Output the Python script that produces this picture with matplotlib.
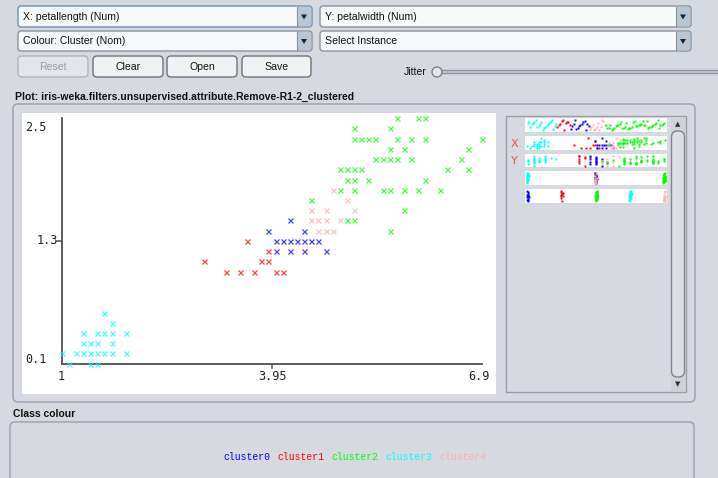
"""
Weka explorer visualize panel: petallength vs petalwidth coloured by cluster.
The whole window is drawn on one pixel-sized axes, the scatter on its own axes.
"""

import numpy as np
import matplotlib.pyplot as plt
from matplotlib.patches import FancyBboxPatch, Rectangle, Circle, Polygon

# points (petallength, petalwidth) per cluster
c0_len = [4.0, 4.2, 4.4, 4.7, 4.0, 4.1, 4.2, 4.3, 4.4, 4.5, 4.6, 3.9, 4.4, 4.2]
c0_wid = [1.2, 1.2, 1.2, 1.2, 1.3, 1.3, 1.3, 1.3, 1.3, 1.3, 1.3, 1.4, 1.4, 1.5]

c1_len = [3.3, 3.5, 3.7, 4.0, 4.1, 3.0, 3.8, 3.9, 3.9, 3.6]
c1_wid = [1.0, 1.0, 1.0, 1.0, 1.0, 1.1, 1.1, 1.1, 1.2, 1.3]

c2_len = [5.6, 5.0, 5.1, 5.8, 4.5,
          4.9, 5.1, 5.5, 5.6, 5.8, 6.0, 6.3,
          5.0, 5.1, 5.3, 6.1,
          4.9, 5.0, 5.1, 5.2, 6.4, 6.7,
          5.4, 5.5, 5.6, 5.7, 5.9, 6.6,
          5.6, 5.8, 6.7,
          5.1, 5.2, 5.3, 5.4, 5.7, 5.9, 6.1, 6.9,
          5.1, 5.6,
          5.7, 6.0, 6.1]
c2_wid = [1.4, 1.5, 1.5, 1.6, 1.7,
          1.8, 1.8, 1.8, 1.8, 1.8, 1.8, 1.8,
          1.9, 1.9, 1.9, 1.9,
          2.0, 2.0, 2.0, 2.0, 2.0, 2.0,
          2.1, 2.1, 2.1, 2.1, 2.1, 2.1,
          2.2, 2.2, 2.2,
          2.3, 2.3, 2.3, 2.3, 2.3, 2.3, 2.3, 2.3,
          2.4, 2.4,
          2.5, 2.5, 2.5]

c3_len = [1.6, 1.7, 1.3, 1.5, 1.6, 1.7, 1.9, 1.3, 1.4, 1.5, 1.7,
          1.0, 1.2, 1.3, 1.4, 1.5, 1.6, 1.7, 1.9, 1.1, 1.4, 1.5]
c3_wid = [0.6, 0.5, 0.4, 0.4, 0.4, 0.4, 0.4, 0.3, 0.3, 0.3, 0.3,
          0.2, 0.2, 0.2, 0.2, 0.2, 0.2, 0.2, 0.2, 0.1, 0.1, 0.1]

c4_len = [4.6, 4.7, 4.8, 4.5, 4.6, 4.7, 4.9, 4.5, 4.7, 5.1, 5.0, 4.8]
c4_wid = [1.4, 1.4, 1.4, 1.5, 1.5, 1.5, 1.5, 1.6, 1.6, 1.6, 1.7, 1.8]

cluster_names = ['cluster0', 'cluster1', 'cluster2', 'cluster3', 'cluster4']
cluster_colors = ['#0000ff', '#ff0000', '#00ff00', '#00ffff', '#ffafaf']
# class of each cluster for the class strip (setosa / versicolor / virginica)
cluster_class = [1, 1, 2, 0, 1]

x_ticks = [1, 3.95, 6.9]
x_tick_labels = ['1', '3.95', '6.9']
y_ticks = [0.1, 1.3, 2.5]
y_tick_labels = ['0.1', '1.3', '2.5']

lengths = [c0_len, c1_len, c2_len, c3_len, c4_len]
widths = [c0_wid, c1_wid, c2_wid, c3_wid, c4_wid]

BG = '#d6d9df'
EDGE = '#9a9ea6'
GUI_FONT = ['Liberation Sans Narrow', 'Liberation Sans', 'DejaVu Sans']
MONO = ['DejaVu Sans Mono']
FS = 7.6

W, H = 718, 478
fig = plt.figure(figsize=(W / 100, H / 100), dpi=100)
fig.patch.set_facecolor(BG)

gui = fig.add_axes([0, 0, 1, 1])
gui.set_xlim(0, W)
gui.set_ylim(H, 0)
gui.axis('off')


def rbox(x0, y0, x1, y1, fc, ec, r=3, lw=1.0, z=1):
    p = FancyBboxPatch((x0, y0), x1 - x0, y1 - y0,
                       boxstyle='round,pad=0,rounding_size=%g' % r,
                       fc=fc, ec=ec, lw=lw, zorder=z)
    gui.add_patch(p)


def combo(x0, y0, x1, y1, text, focus=False):
    rbox(x0, y0, x1, y1, '#f7f8fa', '#6f8fb5' if focus else '#8c9199', r=3)
    gui.add_patch(Rectangle((x1 - 15, y0 + 1), 14, y1 - y0 - 2,
                            fc='#b9c6d5', ec='none', zorder=2))
    gui.plot([x1 - 15, x1 - 15], [y0 + 1, y1 - 1], color='#8c9199', lw=0.8, zorder=3)
    cx, cy = x1 - 8, (y0 + y1) / 2
    gui.add_patch(Polygon([[cx - 3, cy - 2], [cx + 3, cy - 2], [cx, cy + 3]],
                          closed=True, fc='#222222', ec='none', zorder=3))
    gui.text(x0 + 5, cy, text, ha='left', va='center', fontsize=FS,
             family=GUI_FONT, color='#111111', zorder=3)


def button(x0, y0, x1, y1, text, enabled=True):
    rbox(x0, y0, x1, y1, '#f1f2f4' if enabled else '#e3e5e9',
         '#6e737b' if enabled else '#b2b6bc', r=4)
    gui.text((x0 + x1) / 2, (y0 + y1) / 2, text, ha='center', va='center',
             fontsize=FS, family=GUI_FONT,
             color='#111111' if enabled else '#9a9ea5', zorder=3)


combo(18, 6, 312, 27, 'X: petallength (Num)', focus=True)
combo(320, 6, 691, 27, 'Y: petalwidth (Num)')
combo(18, 31, 312, 51, 'Colour: Cluster (Nom)')
combo(320, 31, 691, 51, 'Select Instance')

button(18, 56, 88, 77, 'Reset', enabled=False)
button(93, 56, 163, 77, 'Clear')
button(167, 56, 237, 77, 'Open')
button(242, 56, 311, 77, 'Save')

# jitter slider
gui.text(427, 72, 'Jitter', ha='right', va='center', fontsize=FS,
         family=GUI_FONT, color='#111111')
rbox(440, 70.5, 722, 73.5, '#c4c8ce', '#8c9199', r=1.5)
gui.add_patch(Circle((437, 72), 5, fc='#e6e8ec', ec='#7c818a', lw=1, zorder=4))

# plot panel
gui.text(15, 97, 'Plot: iris-weka.filters.unsupervised.attribute.Remove-R1-2_clustered',
         ha='left', va='center', fontsize=7.5, fontweight='bold',
         family=GUI_FONT, color='#111111')
rbox(13, 104, 695, 402, BG, EDGE, r=5)
gui.add_patch(Rectangle((506, 116), 180, 276, fc='none', ec=EDGE, lw=1, zorder=2))

# scrollbar
gui.add_patch(Rectangle((671, 117), 14, 274, fc='#cfd3d9', ec='none', zorder=2))
rbox(671.5, 131, 684.5, 377, '#dcdfe4', '#80858d', r=6, z=3)
gui.text(678, 124, '\u25b2', ha='center', va='center', fontsize=5,
         family=['DejaVu Sans'], color='#333333')
gui.text(678, 384, '\u25bc', ha='center', va='center', fontsize=5,
         family=['DejaVu Sans'], color='#333333')
gui.text(514, 144, 'X', ha='center', va='center', fontsize=8,
         family=['DejaVu Sans'], color='#e05050')
gui.text(514, 161, 'Y', ha='center', va='center', fontsize=8,
         family=['DejaVu Sans'], color='#e05050')

# class colour panel
gui.text(13, 414, 'Class colour', ha='left', va='center', fontsize=7.5,
         fontweight='bold', family=GUI_FONT, color='#111111')
rbox(10, 422, 694, 490, BG, EDGE, r=5)
for i, name in enumerate(cluster_names):
    gui.text(223 + i * 54, 457, name, ha='left', va='center', fontsize=7,
             family=['Liberation Mono', 'DejaVu Sans Mono'],
             color=cluster_colors[i])

# scatter axes placed on the white area, limits from the pixel mapping
px_l, px_r, px_t, px_b = 22, 496, 113, 394
x0_px, x_scale = 61.7, 71.3      # pixel of x=1, pixels per unit
y0_px, y_scale = 363.7, 102.3    # pixel of y=0.1, pixels per unit
ax = fig.add_axes([px_l / W, 1 - px_b / H, (px_r - px_l) / W, (px_b - px_t) / H])
ax.set_facecolor('white')
ax.set_xlim(1 + (px_l - x0_px) / x_scale, 1 + (px_r - x0_px) / x_scale)
ax.set_ylim(0.1 - (px_b - y0_px) / y_scale, 0.1 + (y0_px - px_t) / y_scale)
ax.set_xticks([])
ax.set_yticks([])
for s in ax.spines.values():
    s.set_visible(False)

ax.plot([x_ticks[0], x_ticks[0]], [y_ticks[0], y_ticks[-1]], color='#505050', lw=1.3)
ax.plot([x_ticks[0], x_ticks[-1]], [y_ticks[0], y_ticks[0]], color='#505050', lw=1.3)
ax.plot([x_ticks[0] - 5 / x_scale, x_ticks[0]], [y_ticks[1], y_ticks[1]],
        color='#505050', lw=1.1)
ax.plot([x_ticks[1], x_ticks[1]], [y_ticks[0], y_ticks[0] - 4 / y_scale],
        color='#505050', lw=1.1)

for k in range(5):
    ax.plot(lengths[k], widths[k], 'x', color=cluster_colors[k],
            ms=3.6, mew=0.9, alpha=0.75, clip_on=False)

# tick labels (monospace, as in the java panel)
tk = dict(fontsize=8.5, family=MONO, color='#222222', va='center', ha='center')
ax.text(1 + (36 - x0_px) / x_scale, y_ticks[2] - 9 / y_scale, y_tick_labels[2], **tk)
ax.text(1 + (47 - x0_px) / x_scale, y_ticks[1], y_tick_labels[1], **tk)
ax.text(1 + (36 - x0_px) / x_scale, y_ticks[0] + 4 / y_scale, y_tick_labels[0], **tk)
ax.text(x_ticks[0], y_ticks[0] - 13 / y_scale, x_tick_labels[0], **tk)
ax.text(x_ticks[1], y_ticks[0] - 13 / y_scale, x_tick_labels[1], **tk)
ax.text(x_ticks[2] - 3 / x_scale, y_ticks[0] - 13 / y_scale, x_tick_labels[2], **tk)


# attribute strips on the right
def spread(vals):
    v = np.asarray(vals, dtype=float)
    if v.max() == v.min():
        return np.full(len(v), 0.5)
    return (v - v.min()) / (v.max() - v.min())


strip_rows = [(118, 132), (136, 150), (154, 167), (171, 185), (189, 203)]
strips = []
for (t, b) in strip_rows:
    sa = fig.add_axes([525 / W, 1 - b / H, 142 / W, (b - t) / H])
    sa.set_facecolor('white')
    sa.set_xticks([])
    sa.set_yticks([])
    for s in sa.spines.values():
        s.set_visible(False)
    sa.set_ylim(-0.15, 1.15)
    strips.append(sa)

order = [3, 1, 0, 4, 2]
start = 0
mk = dict(marker='s', ls='none', ms=1.4, mew=0)
for k in order:
    n = len(lengths[k])
    idx = np.arange(start, start + n)
    start += n
    col = cluster_colors[k]
    sl = spread(lengths[k])
    sw = spread(widths[k])
    strips[0].plot(idx, sl, color=col, **mk)
    strips[1].plot(lengths[k], sw, color=col, **mk)
    strips[2].plot(widths[k], sl, color=col, **mk)
    strips[3].plot(cluster_class[k] + 0.03 * sw, sl, color=col, **mk)
    strips[4].plot(k + 0.06 * sw, sl, color=col, **mk)

strips[0].set_xlim(-2, start + 1)
strips[1].set_xlim(0.9, 7.0)
strips[2].set_xlim(0.05, 2.55)
strips[3].set_xlim(-0.03, 2.06)
strips[4].set_xlim(-0.06, 4.1)

fig.savefig('out.png', dpi=100, facecolor=BG)
